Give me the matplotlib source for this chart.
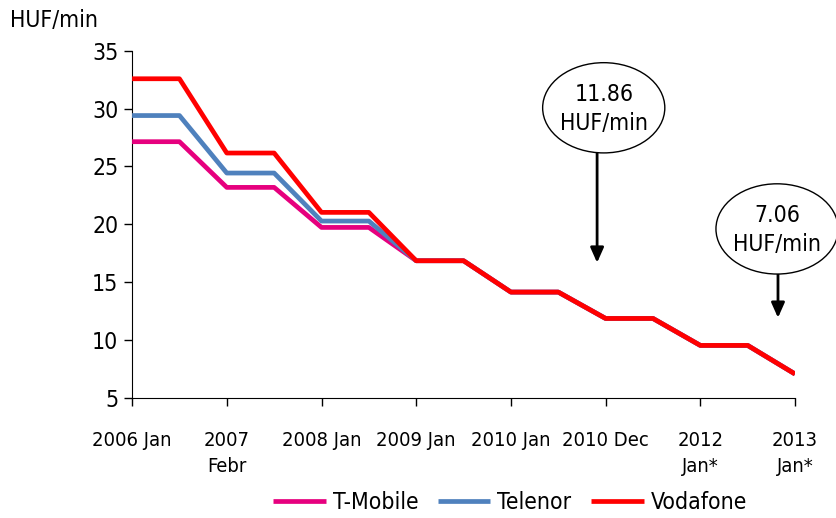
import matplotlib.pyplot as plt
from matplotlib.patches import Ellipse
from matplotlib import font_manager
import numpy as np

# the original uses a narrow sans; take one if the machine has it
narrow = None
for f in font_manager.fontManager.ttflist:
	if "Narrow" in f.name or "Condensed" in f.name or f.stretch in ("condensed", "semi-condensed"):
		narrow = f
		break
if narrow is not None:
	plt.rcParams['font.family'] = [narrow.name, 'Liberation Sans', 'DejaVu Sans']
	plt.rcParams['font.stretch'] = narrow.stretch
	FS, FS_X = 16.5, 14.5
else:
	plt.rcParams['font.family'] = ['Liberation Sans', 'DejaVu Sans']
	FS, FS_X = 14, 13

# Mobile termination rates, HUF/min, per period
periods = ["2006 Jan", "2007\nFebr", "2008 Jan", "2009 Jan", "2010 Jan",
           "2010 Dec", "2012\nJan*", "2013\nJan*"]
t_mobile = [27.14, 23.19, 19.73, 16.85, 14.14, 11.86, 9.53, 7.06]
telenor = [29.4, 24.43, 20.28, 16.85, 14.14, 11.86, 9.53, 7.06]
vodafone = [32.58, 26.16, 21.03, 16.85, 14.14, 11.86, 9.53, 7.06]

series = [
	("T-Mobile", t_mobile, "#E6007E"),
	("Telenor", telenor, "#4F81BD"),
	("Vodafone", vodafone, "#FF0000"),
]


def steps(vals):
	# each rate is held for half a period, then falls to the next one
	xs, ys = [], []
	for i, v in enumerate(vals):
		xs.append(i)
		ys.append(v)
		if i < len(vals) - 1:
			xs.append(i + 0.5)
			ys.append(v)
	return xs, ys


def bubble(ax, x, y, text, tip_x, tip_top, tip_y):
	e = Ellipse((x, y), 1.29, 7.8, transform=ax.transData, clip_on=False,
				facecolor="white", edgecolor="black", lw=1.0, zorder=6)
	ax.add_patch(e)
	ax.text(x, y - 0.1, text, ha="center", va="center", fontsize=FS,
			linespacing=1.3, zorder=7, clip_on=False)
	ax.annotate("", xy=(tip_x, tip_y), xytext=(tip_x, tip_top),
				arrowprops=dict(arrowstyle="-|>,head_length=0.9,head_width=0.4",
								color="black", lw=2, shrinkA=0, shrinkB=0), zorder=5)


fig = plt.figure(figsize=(8.36, 5.18), dpi=100)
ax = fig.add_axes([0.158, 0.232, 0.793, 0.670])

for name, vals, col in series:
	xs, ys = steps(vals)
	ax.plot(xs, ys, color=col, lw=3.4, label=name, solid_capstyle="butt", zorder=3)

ax.set_xlim(0, len(periods) - 1)
ax.set_ylim(5, 35)
ax.set_yticks(np.arange(5, 36, 5))
ax.set_xticks(range(len(periods)))
ax.set_xticklabels(periods, linespacing=1.45, va="top", fontsize=FS_X)
ax.tick_params(axis="both", direction="out", length=6, width=1)
ax.tick_params(axis="y", labelsize=FS, pad=4)
ax.tick_params(axis="x", pad=18)
for s in ("top", "right"):
	ax.spines[s].set_visible(False)

fig.text(0.012, 0.96, "HUF/min", fontsize=FS, ha="left", va="center")

bubble(ax, 4.98, 30.07, "11.86\nHUF/min", 4.91, 26.18, 16.68)
bubble(ax, 6.81, 19.6, "7.06\nHUF/min", 6.82, 15.73, 11.92)

fig.legend(loc="center", bbox_to_anchor=(0.61, 0.029), ncol=3, frameon=False,
		   fontsize=FS, handlelength=2.3, handletextpad=0.3, columnspacing=0.85,
		   borderaxespad=0, borderpad=0)

fig.savefig("out.png", dpi=100)
